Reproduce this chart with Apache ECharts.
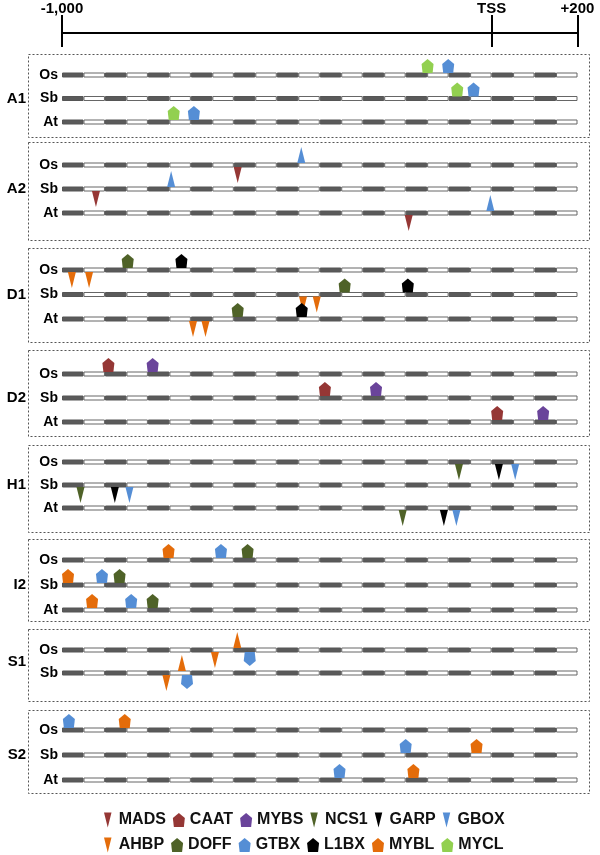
<!DOCTYPE html>
<html>
<head>
<meta charset="utf-8">
<title>Promoter motif map</title>
<script src="https://cdn.jsdelivr.net/npm/echarts@6/dist/echarts.min.js"></script>
<style>
  html, body { margin: 0; padding: 0; background: #fff; }
  #chart { width: 600px; height: 855px; }
</style>
</head>
<body>
<div id="chart"></div>
<script>
// positions are bp relative to the TSS
var xMin = -1000
var xMax = 200
var tickValues = [-1000, 0, 200]
var tickLabels = ['-1,000', 'TSS', '+200']
// 50 bp ruler segments drawn on every promoter bar
var segmentEdges = [-1000, -950, -900, -850, -800, -750, -700, -650, -600, -550, -500, -450, -400,
  -350, -300, -250, -200, -150, -100, -50, 0, 50, 100, 150, 200]

var panelNames = ['A1', 'A2', 'D1', 'D2', 'H1', 'I2', 'S1', 'S2']
var panelRows = [
  ['Os', 'Sb', 'At'],
  ['Os', 'Sb', 'At'],
  ['Os', 'Sb', 'At'],
  ['Os', 'Sb', 'At'],
  ['Os', 'Sb', 'At'],
  ['Os', 'Sb', 'At'],
  ['Os', 'Sb'],
  ['Os', 'Sb', 'At']
]

var motifNames = ['MADS', 'CAAT', 'MYBS', 'NCS1', 'GARP', 'GBOX', 'AHBP', 'DOFF', 'GTBX', 'L1BX', 'MYBL', 'MYCL']

// [motif, row, position, strand] ; up = above the bar, down = below it
var sitesA1 = [
  ['MYCL', 'Os', -149, 'up'], ['GTBX', 'Os', -101, 'up'],
  ['MYCL', 'Sb', -80, 'up'], ['GTBX', 'Sb', -42, 'up'],
  ['MYCL', 'At', -740, 'up'], ['GTBX', 'At', -693, 'up']
]
var sitesA2 = [
  ['GBOX', 'Os', -443, 'up'], ['MADS', 'Os', -591, 'down'],
  ['GBOX', 'Sb', -746, 'up'], ['MADS', 'Sb', -921, 'down'],
  ['GBOX', 'At', -3, 'up'], ['MADS', 'At', -193, 'down']
]
var sitesD1 = [
  ['DOFF', 'Os', -847, 'up'], ['L1BX', 'Os', -722, 'up'], ['AHBP', 'Os', -977, 'down'], ['AHBP', 'Os', -937, 'down'],
  ['DOFF', 'Sb', -342, 'up'], ['L1BX', 'Sb', -195, 'up'], ['AHBP', 'Sb', -439, 'down'], ['AHBP', 'Sb', -407, 'down'],
  ['DOFF', 'At', -591, 'up'], ['L1BX', 'At', -442, 'up'], ['AHBP', 'At', -695, 'down'], ['AHBP', 'At', -666, 'down']
]
var sitesD2 = [
  ['CAAT', 'Os', -892, 'up'], ['MYBS', 'Os', -789, 'up'],
  ['CAAT', 'Sb', -388, 'up'], ['MYBS', 'Sb', -269, 'up'],
  ['CAAT', 'At', 13, 'up'], ['MYBS', 'At', 120, 'up']
]
var sitesH1 = [
  ['NCS1', 'Os', -76, 'down'], ['GARP', 'Os', 17, 'down'], ['GBOX', 'Os', 55, 'down'],
  ['NCS1', 'Sb', -957, 'down'], ['GARP', 'Sb', -877, 'down'], ['GBOX', 'Sb', -843, 'down'],
  ['NCS1', 'At', -207, 'down'], ['GARP', 'At', -111, 'down'], ['GBOX', 'At', -82, 'down']
]
var sitesI2 = [
  ['MYBL', 'Os', -752, 'up'], ['GTBX', 'Os', -630, 'up'], ['DOFF', 'Os', -568, 'up'],
  ['MYBL', 'Sb', -986, 'up'], ['GTBX', 'Sb', -907, 'up'], ['DOFF', 'Sb', -866, 'up'],
  ['MYBL', 'At', -930, 'up'], ['GTBX', 'At', -839, 'up'], ['DOFF', 'At', -789, 'up']
]
var sitesS1 = [
  ['AHBP', 'Os', -592, 'up'], ['AHBP', 'Os', -644, 'down'], ['GTBX', 'Os', -563, 'down'],
  ['AHBP', 'Sb', -721, 'up'], ['AHBP', 'Sb', -757, 'down'], ['GTBX', 'Sb', -709, 'down']
]
var sitesS2 = [
  ['GTBX', 'Os', -984, 'up'], ['MYBL', 'Os', -854, 'up'],
  ['GTBX', 'Sb', -200, 'up'], ['MYBL', 'Sb', -35, 'up'],
  ['GTBX', 'At', -354, 'up'], ['MYBL', 'At', -182, 'up']
]
var panelSites = [sitesA1, sitesA2, sitesD1, sitesD2, sitesH1, sitesI2, sitesS1, sitesS2]

// layout (pixels)
var boxTop = [54, 142, 248, 350, 445, 539, 629, 710]
var boxBottom = [137, 240, 342, 436, 532, 621, 701, 793]
var firstRowY = [75, 165, 270, 374, 462, 560, 650, 730]
var rowGap = [23.5, 24, 24.5, 24, 23, 25, 23, 25]

var FONT = 'Liberation Sans, Arial, sans-serif'
var TRI_DOWN = 'path://M0,0L8,0L4,16Z'
var TRI_UP = 'path://M4,0L8,16L0,16Z'
var PENT_UP = 'path://M6,0L12,5L11,14L1,14L0,5Z'
var PENT_DOWN = 'path://M1,0L11,0L12,9L6,14L0,9Z'

var motifColor = {
  MADS: '#953735', CAAT: '#953735', MYBS: '#6a449a', NCS1: '#4f6228',
  GARP: '#000000', GBOX: '#558ed5', AHBP: '#e46c0a', DOFF: '#4f6228',
  GTBX: '#558ed5', L1BX: '#000000', MYBL: '#e46c0a', MYCL: '#92d050'
}
var triangleMotifs = ['MADS', 'NCS1', 'GARP', 'GBOX', 'AHBP']

function isTri (m) {
  return triangleMotifs.indexOf(m) >= 0
}

// ruler segments as stacked horizontal bars; negative ones stack outward from the TSS
function segmentOrder () {
  var neg = []
  var pos = []
  for (var i = 0; i < segmentEdges.length - 1; i++) {
    if (segmentEdges[i + 1] <= 0) neg.unshift(i)
    else pos.push(i)
  }
  return neg.concat(pos)
}

// top scale: line at the bottom edge of grid 0, labels on its top edge
var grid = [{ left: 62, right: 22.5, top: 15, height: 18, containLabel: false, outerBoundsMode: 'none' }]
var xAxis = [
  {
    gridIndex: 0,
    type: 'value',
    position: 'bottom',
    min: xMin,
    max: xMax,
    axisLine: { show: true, lineStyle: { color: '#000', width: 2 } },
    axisTick: { show: true, customValues: tickValues, length: 14, lineStyle: { color: '#000', width: 2 } },
    axisLabel: { show: false },
    splitLine: { show: false }
  },
  {
    gridIndex: 0,
    type: 'value',
    position: 'top',
    min: xMin,
    max: xMax,
    axisLine: { show: false },
    axisTick: { show: true, inside: true, customValues: tickValues, length: 18, lineStyle: { color: '#000', width: 2 } },
    axisLabel: {
      show: true,
      customValues: tickValues,
      margin: -1,
      color: '#000',
      fontSize: 15,
      fontWeight: 'bold',
      fontFamily: FONT,
      formatter: function (v) {
        return tickLabels[tickValues.indexOf(v)]
      }
    },
    splitLine: { show: false }
  }
]
var yAxis = [{ gridIndex: 0, type: 'value', show: false }]
var series = []
var graphic = []
var order = segmentOrder()

panelSites.forEach(function (sites, p) {
  var gi = p + 1
  var xi = xAxis.length
  var yi = yAxis.length
  var rows = panelRows[p]
  grid.push({
    left: 62,
    right: 22.5,
    top: firstRowY[p] - rowGap[p] / 2,
    height: rowGap[p] * rows.length,
    containLabel: false,
    outerBoundsMode: 'none'
  })
  xAxis.push({ gridIndex: gi, type: 'value', min: xMin, max: xMax, show: false })
  yAxis.push({
    gridIndex: gi,
    type: 'category',
    data: rows,
    inverse: true,
    name: panelNames[p],
    nameLocation: 'middle',
    nameRotate: 0,
    nameGap: 36,
    nameTextStyle: { color: '#000', fontSize: 15, fontWeight: 'bold', fontFamily: FONT, align: 'right', verticalAlign: 'middle' },
    axisLine: { show: false },
    axisTick: { show: false },
    splitLine: { show: false },
    axisLabel: { color: '#000', fontSize: 14, fontWeight: 'bold', fontFamily: FONT, margin: 4 }
  })
  order.forEach(function (i) {
    var len = segmentEdges[i + 1] - segmentEdges[i]
    var dark = i % 2 === 0
    series.push({
      type: 'bar',
      xAxisIndex: xi,
      yAxisIndex: yi,
      stack: 'ruler' + p,
      barWidth: 5,
      silent: true,
      z: 1,
      itemStyle: {
        color: dark ? '#5a5a5a' : '#ffffff',
        borderColor: dark ? '#555555' : '#666666',
        borderWidth: 1,
        borderRadius: 0
      },
      data: rows.map(function () { return segmentEdges[i + 1] <= 0 ? -len : len })
    })
  })
  motifNames.forEach(function (m) {
    var pts = sites.filter(function (s) { return s[0] === m })
    if (!pts.length) return
    var tri = isTri(m)
    series.push({
      type: 'scatter',
      name: m,
      xAxisIndex: xi,
      yAxisIndex: yi,
      symbol: tri ? TRI_DOWN : PENT_UP,
      symbolSize: tri ? [8, 16] : [12, 14],
      itemStyle: { color: motifColor[m], opacity: 1 },
      silent: true,
      z: 3,
      data: pts.map(function (s) {
        var up = s[3] === 'up'
        return {
          value: [s[2], rows.indexOf(s[1])],
          symbol: tri ? (up ? TRI_UP : TRI_DOWN) : (up ? PENT_UP : PENT_DOWN),
          symbolOffset: [0, up ? (tri ? -10 : -9) : (tri ? 10 : 9)]
        }
      })
    })
  })
  graphic.push({
    type: 'rect',
    z: -10,
    shape: { x: 28.5, y: boxTop[p] + 0.5, width: 561, height: boxBottom[p] - boxTop[p] },
    style: { fill: 'none', stroke: '#555', lineWidth: 1, lineDash: [2, 2] },
    silent: true
  })
})

function legendItem (m) {
  return { name: m, icon: isTri(m) ? TRI_DOWN : PENT_UP }
}

var legendBase = {
  left: 99,
  orient: 'horizontal',
  itemWidth: 12,
  itemHeight: 15,
  itemGap: 7,
  selectedMode: false,
  textStyle: { color: '#111', fontSize: 16, fontWeight: 'bold', fontFamily: FONT }
}

var chart = echarts.init(document.getElementById('chart'))
chart.setOption({
  animation: false,
  backgroundColor: '#fff',
  grid: grid,
  xAxis: xAxis,
  yAxis: yAxis,
  legend: [
    Object.assign({}, legendBase, { top: 807, data: motifNames.slice(0, 6).map(legendItem) }),
    Object.assign({}, legendBase, { top: 832, data: motifNames.slice(6).map(legendItem) })
  ],
  graphic: graphic,
  series: series
})
</script>
</body>
</html>
